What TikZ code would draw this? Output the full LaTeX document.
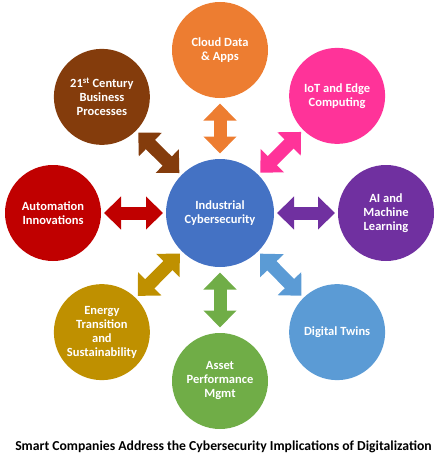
\documentclass[tikz,border=0pt]{standalone}
\usepackage{fontspec}
\setmainfont{Carlito}
\usetikzlibrary{arrows.meta,positioning}

\definecolor{hubblue}{HTML}{4472C4}
\definecolor{cloudorange}{HTML}{ED7D31}
\definecolor{iotpink}{HTML}{FF3399}
\definecolor{aipurple}{HTML}{7030A0}
\definecolor{twinblue}{HTML}{5B9BD5}
\definecolor{assetgreen}{HTML}{70AD47}
\definecolor{energygold}{HTML}{BF9000}
\definecolor{autored}{HTML}{C00000}
\definecolor{bizbrown}{HTML}{843C0C}

\begin{document}
\begin{tikzpicture}[
        x=1pt, y=1pt,
        hub/.style={circle, minimum size=108pt, inner sep=0pt, outer sep=0pt, align=center, text=white, font=\fontsize{12.5}{14}\selectfont\bfseries},
        topic/.style={hub, minimum size=96pt},
        link/.style={line width=13pt, {Triangle[width=32pt,length=17pt]}-{Triangle[width=32pt,length=17pt]}, shorten <=3pt, shorten >=3pt}
    ]
        \useasboundingbox (0,0) rectangle (440,-460);

        % Central node
        \node (ic) [hub, fill=hubblue] at (220,-213) {Industrial\\Cybersecurity};

        % Surrounding topics
        \node (cloud) [topic, fill=cloudorange, above=61pt of ic] {Cloud Data\\\& Apps};
        \node (iot) [topic, fill=iotpink, above right=45pt and 45pt of ic] {IoT and Edge\\Computing};
        \node (ai) [topic, fill=aipurple, right=64pt of ic] {AI and\\Machine\\Learning};
        \node (twins) [topic, fill=twinblue, below right=47pt and 45pt of ic] {Digital Twins};
        \node (asset) [topic, fill=assetgreen, below=66pt of ic] {Asset\\Performance\\Mgmt};
        \node (energy) [topic, fill=energygold, below left=47pt and 46pt of ic] {Energy\\Transition\\and\\Sustainability};
        \node (auto) [topic, fill=autored, left=65pt of ic] {Automation\\Innovations};
        \node (biz) [topic, fill=bizbrown, above left=44pt and 46pt of ic] {21\textsuperscript{st} Century\\Business\\Processes};

        % Caption
        \node (caption) at (223.5,-447) {\fontsize{13.7}{16}\selectfont\bfseries Smart Companies Address the Cybersecurity Implications of Digitalization};

        % Connections
        \draw [link, cloudorange, shorten <=5.5pt, shorten >=5.5pt] (ic) -- (cloud);
        \draw [link, iotpink] (ic) -- (iot);
        \draw [link, aipurple] (ic) -- (ai);
        \draw [link, twinblue] (ic) -- (twins);
        \draw [link, assetgreen, shorten <=5.5pt, shorten >=5.5pt] (ic) -- (asset);
        \draw [link, energygold] (ic) -- (energy);
        \draw [link, autored] (ic) -- (auto);
        \draw [link, bizbrown] (ic) -- (biz);

    \end{tikzpicture}
\end{document}
